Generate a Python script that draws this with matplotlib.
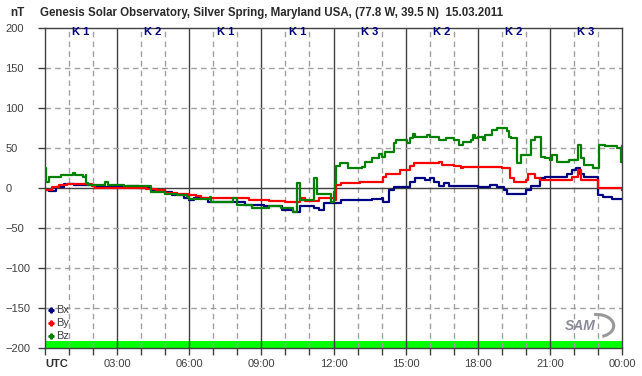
import numpy as np
import matplotlib.pyplot as plt
from matplotlib.patches import Arc

plt.rcParams['font.family'] = ['Liberation Sans', 'DejaVu Sans']

# ---------------- data (hours UTC, nT) ----------------
bx_t = [0.0, 0.15, 0.3, 0.45, 0.8, 1.0, 1.2, 1.8, 2.1, 2.5, 3.0, 3.4, 3.9, 4.4, 4.9, 5.3, 5.8, 6.0,
        6.2, 6.6, 6.8, 7.2, 7.5, 8.0, 8.3, 8.9, 9.1, 9.7, 9.85, 10.2, 10.3, 10.45, 10.6, 11.0, 11.2,
        11.4, 11.6, 12.0, 12.3, 13.0, 13.6, 14.0, 14.05, 14.3, 14.5, 15.0, 15.2, 15.4, 15.7, 15.8,
        16.0, 16.2, 16.4, 16.6, 16.8, 17.5, 17.7, 18.0, 18.5, 18.8, 19.1, 19.2, 19.9, 20.0, 20.2,
        20.5, 20.6, 20.8, 21.4, 21.7, 21.9, 22.0, 22.1, 22.25, 22.4, 22.9, 23.0, 23.2, 23.6, 24.0]
bx_v = [-2, -4, -4, 1, 5, 5, 4, 4, 3, 1.5, 1.5, 2, 0, -4, -5, -9, -13, -15,
        -13, -13, -17, -17, -18, -18, -21, -21, -23, -23, -27, -27, -29.6, -29.6, -23, -23, -25,
        -27.5, -19, -19, -15, -15, -14, -13, -17, -2, 1.7, 1.7, 8, 12, 12, 10,
        12, 8, 2, 6, 2, 3, 2, 1.7, 4, 1.7, -2.5, -7, -7, -3, 2,
        2, 12, 14, 14, 18, 22.5, 22.5, 24.6, 18, 14, 14, -9, -11, -14, -14]

by_t = [0.0, 0.3, 0.6, 0.9, 1.8, 1.95, 2.1, 4.0, 4.2, 4.6, 5.0, 5.5, 6.0, 6.3, 6.5, 7.0, 7.5, 8.0,
        8.5, 9.0, 9.3, 10.0, 10.2, 10.5, 10.6, 10.8, 11.3, 11.4, 11.95, 12.0, 12.1, 12.3, 13.0, 13.1,
        14.0, 14.05, 14.2, 14.6, 14.75, 15.1, 15.2, 15.35, 16.0, 16.4, 16.5, 16.8, 17.0, 17.3, 17.4,
        18.0, 18.3, 18.8, 19.0, 19.2, 19.35, 19.5, 19.9, 20.0, 20.1, 20.35, 20.4, 20.6, 21.8, 21.9,
        22.1, 22.15, 22.3, 22.9, 23.0, 23.9, 24.0]
by_v = [-2, 1, 4, 5, 5, 2, 0.5, 0.5, -1, -3, -6, -7, -9, -10, -12, -12, -13, -13,
        -15, -15, -16, -17, -18, -18, -13, -16, -16, -13, -13, -15, 4, 6, 6, 8,
        8, 14, 18, 18, 22.5, 22.5, 27, 31, 31, 32, 29, 29, 27, 25, 26,
        26, 26.7, 26.7, 25, 25, 12, 8, 8, 10, 18, 18, 12, 10, 10, 14,
        14, 22.5, 10, 10, 0, 0, -2]

bz_t = [0.0, 0.05, 0.15, 0.6, 0.65, 1.1, 1.15, 1.25, 1.6, 1.7, 1.72, 1.8, 2.4, 2.5, 2.6, 3.2, 3.3,
        4.1, 4.4, 4.8, 5.0, 5.5, 5.9, 6.0, 6.8, 6.85, 6.9, 7.5, 7.8, 8.0, 8.5, 8.6, 9.1, 9.3, 9.7,
        9.8, 10.2, 10.3, 10.45, 10.5, 10.6, 11.15, 11.2, 11.3, 11.8, 11.9, 12.0, 12.05, 12.1, 12.25,
        12.5, 12.6, 13.0, 13.2, 13.3, 13.6, 13.8, 13.9, 14.0, 14.15, 14.4, 14.5, 14.6, 15.0, 15.05,
        15.2, 15.3, 15.4, 15.9, 16.0, 16.3, 16.4, 16.6, 16.7, 17.0, 17.2, 17.4, 17.7, 17.8, 17.9,
        18.0, 18.2, 18.3, 18.6, 18.8, 19.1, 19.2, 19.3, 19.4, 19.6, 19.65, 19.8, 20.1, 20.2, 20.4,
        20.6, 20.65, 20.8, 21.0, 21.1, 21.3, 21.6, 21.8, 22.1, 22.15, 22.3, 22.4, 22.6, 22.8, 23.0,
        23.05, 23.3, 23.7, 23.8, 23.95, 23.97, 24.0]
bz_v = [25, 8, 14, 14, 16, 16, 19, 16, 14, 16, 6, 4, 4, 8, 4, 4, 2,
        2, -5, -5, -7, -9, -11, -14, -14, -11, -17, -17, -13, -21, -21, -25, -25, -23, -23,
        -25, -25, -29.6, -29.6, 6, -15, -15, 12, -7, -7, -17, -5, 6, 27, 31,
        31, 24.6, 24.6, 26, 33, 37, 37, 43, 39, 45, 45, 56, 60, 60, 56,
        62, 68, 64, 66, 64, 64, 60, 60, 62, 60, 54, 58, 60, 66, 62,
        64, 60, 66, 72.5, 75, 75, 71, 64, 62, 62, 31, 41, 41, 60, 64,
        64, 39, 38, 35, 41, 33, 33, 35, 35, 54, 38, 29, 29, 25, 25,
        54, 53, 53, 50, 50, 33, 52]

k_index = [1, 2, 1, 1, 3, 2, 2, 3]
x_ticks = [0, 3, 6, 9, 12, 15, 18, 21, 24]
x_labels = ['UTC', '03:00', '06:00', '09:00', '12:00', '15:00', '18:00', '21:00', '00:00']
y_ticks = [-200, -150, -100, -50, 0, 50, 100, 150, 200]
title = 'Genesis Solar Observatory, Silver Spring, Maryland USA, (77.8 W, 39.5 N)  15.03.2011'

# ---------------- figure ----------------
W, H = 642, 376
fig = plt.figure(figsize=(W / 100, H / 100), dpi=100)
ax = fig.add_axes([45 / W, (H - 348) / H, 577 / W, 320 / H])

ax.set_xlim(0, 24)
ax.set_ylim(-200, 200)

# green status bar at the bottom
ax.axhspan(-200, -191.5, color='#00ff00', lw=0, zorder=1)

# grid
for h in range(1, 24):
    if h % 3 == 0:
        ax.axvline(h, color='#404040', lw=1, zorder=2)
    else:
        ax.axvline(h, color='#a0a0a0', lw=1, ls=(0, (4, 3)), zorder=2)
for v in [-150, -100, -50, 50, 100, 150]:
    ax.axhline(v, color='#a0a0a0', lw=1, ls=(0, (4, 3)), zorder=2)
ax.axhline(0, color='#404040', lw=1, zorder=2)

# series
ax.plot(bx_t, bx_v, color='#000080', lw=1.6, drawstyle='steps-post', zorder=3)
ax.plot(by_t, by_v, color='#ff0000', lw=1.6, drawstyle='steps-post', zorder=4)
ax.plot(bz_t, bz_v, color='#008000', lw=1.6, drawstyle='steps-post', zorder=5)

# K index labels
for i, k in enumerate(k_index):
    ax.text(i * 3 + 1.5, 195.5, f'K {k}', color='#000080', fontsize=8, fontweight='bold',
            ha='center', va='center', zorder=6)

# axes styling
for s in ax.spines.values():
    s.set_color('#404040')
    s.set_linewidth(1)
ax.set_xticks(x_ticks)
ax.set_xticklabels(x_labels)
ax.set_xticks(range(25), minor=True)
ax.set_yticks(y_ticks)
ax.tick_params(axis='both', which='both', direction='out', length=5, color='#404040',
               labelsize=8, labelcolor='#404040', width=1)
ax.tick_params(axis='x', pad=3)
ax.tick_params(axis='y', pad=23.5)
for lab in ax.get_yticklabels():
    lab.set_horizontalalignment('left')
ulab = ax.get_xticklabels()[0]
ulab.set_fontweight('bold')
ulab.set_color('#303030')
ulab.set_horizontalalignment('left')

# legend
for name, col, yy in [('Bx', '#000080', -153), ('By', '#ff0000', -169), ('Bz', '#008000', -185)]:
    ax.plot([0.25], [yy], marker='P', ms=3.5, color=col, zorder=7, clip_on=False)
    ax.text(0.46, yy, name, fontsize=8, color='#404040', va='center', ha='left', zorder=7)

# title and unit
t = fig.text(272 / W, 1 - 13 / H, title, ha='center', va='center', fontsize=9,
             fontweight='bold', color='#2a2a2a')
fig.canvas.draw()
tw = t.get_window_extent(fig.canvas.get_renderer()).width
t.set_fontsize(9 * 465 / tw)
fig.text(17.5 / W, 1 - 13 / H, 'nT', ha='center', va='center', fontsize=8.5, fontweight='bold',
         color='#2a2a2a')

# SAM logo
fig.text(580 / W, 1 - 326 / H, 'SAM', fontsize=10, fontstyle='italic', fontweight='bold',
         color='#8a8a9a', ha='center', va='center')
logo = fig.add_axes([578 / W, (H - 340) / H, 42 / W, 30 / H])
logo.set_xlim(-1, 1)
logo.set_ylim(-1, 1)
logo.axis('off')
logo.add_patch(Arc((-0.1, -0.05), 1.6, 1.5, theta1=-70, theta2=100, color='#999999', lw=2.2))

fig.savefig('out.png', dpi=100)
